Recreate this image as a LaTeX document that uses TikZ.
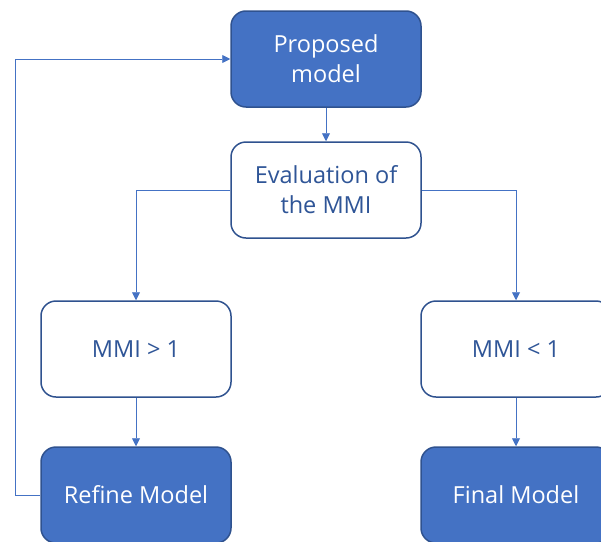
\documentclass[tikz,border=0pt]{standalone}
\usepackage{fontspec}
\setmainfont{Open Sans}
\usetikzlibrary{arrows.meta}
\definecolor{boxfill}{HTML}{4472C4}
\definecolor{boxedge}{HTML}{2F528F}
\definecolor{darktext}{HTML}{2F5597}
\definecolor{linkcol}{HTML}{4472C4}
\begin{document}
\begin{tikzpicture}[x=1pt,y=-1pt,
  basebox/.style={rounded corners=15pt, line width=1.5pt, draw=boxedge,
    minimum width=190pt, minimum height=96pt, align=center,
    font=\fontsize{23.5}{30}\selectfont, inner sep=0pt},
  filledbox/.style={basebox, fill=boxfill, text=white},
  openbox/.style={basebox, fill=white, text=darktext},
  link/.style={draw=linkcol, line width=0.9pt, -{Triangle[length=8pt,width=8pt]}}]
\useasboundingbox (0,0) rectangle (601,541);
\clip (0,0) rectangle (601,541);
\node[filledbox] (prop) at (326,59) {Proposed\\model};
\node[openbox] (eval) at (326,190) {Evaluation of\\the MMI};
\node[openbox] (gt) at (136,349) {MMI > 1};
\node[openbox] (lt) at (516,349) {MMI < 1};
\node[filledbox] (refine) at (136,495) {Refine Model};
\node[filledbox] (final) at (516,495) {Final Model};
\draw[link] (prop) -- (eval);
\draw[link] (eval.west) -| (gt.north);
\draw[link] (eval.east) -| (lt.north);
\draw[link] (gt) -- (refine);
\draw[link] (lt) -- (final);
\coordinate (loop) at (15,495);
\draw[link] (refine.west) -- (loop) |- (prop.west);
\end{tikzpicture}
\end{document}
